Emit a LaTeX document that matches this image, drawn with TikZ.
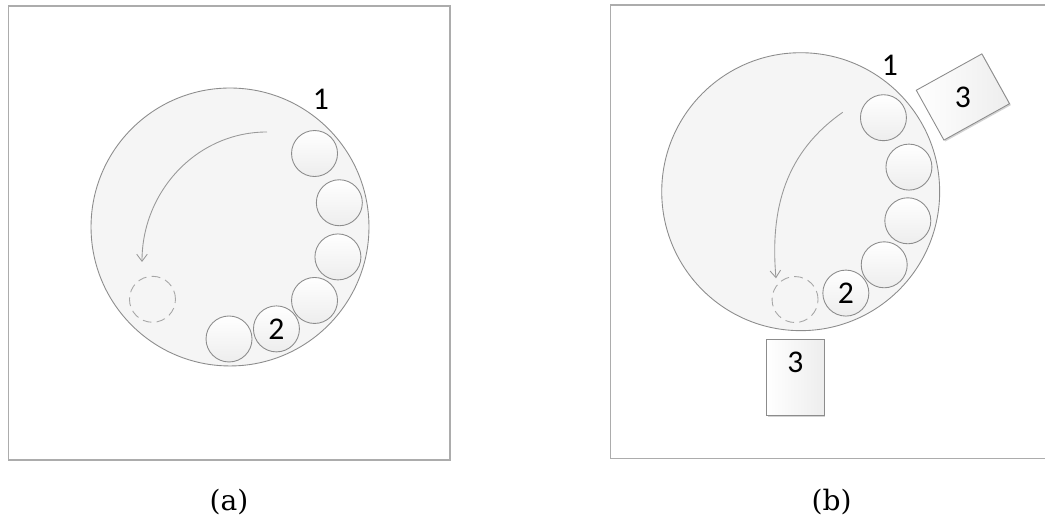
\documentclass[tikz,border=0pt]{standalone}
\usepackage{fontspec}
\setmainfont{DejaVu Serif}
\newfontfamily\numfont{Carlito}
\usetikzlibrary{calc,arrows.meta,shadows}
\definecolor{discfill}{HTML}{F5F5F5}
\definecolor{edge}{HTML}{8C8C8C}

\begin{document}
\begin{tikzpicture}[x=0.02cm,y=0.02cm,>={Straight Barb[length=4pt,width=6pt]},
  frame/.style={draw=gray!65,line width=0.6pt},
  disc/.style={circle,draw=edge,line width=0.5pt,fill=discfill,minimum size=5.56cm,inner sep=0pt},
  ball/.style={circle,draw=edge,line width=0.5pt,top color=white,bottom color=gray!14,
    minimum size=0.92cm,inner sep=0pt,font=\numfont\fontsize{18}{18}\selectfont},
  ghost/.style={circle,draw=gray!70,dashed,dash pattern=on 5pt off 3pt,line width=0.5pt,
    fill=discfill,minimum size=0.92cm,inner sep=0pt},
  tray/.style={draw=edge,line width=0.5pt,left color=white,right color=gray!14,inner sep=0pt,
    drop shadow={shadow xshift=0.8pt,shadow yshift=-0.8pt,opacity=0.35}},
  num/.style={font=\numfont\fontsize{18}{18}\selectfont},
  caption/.style={font=\fontsize{16}{16}\selectfont},
  turn/.style={->,draw=gray!80,line width=0.5pt}]
  \useasboundingbox (0,0) rectangle (1045,516);

  % (a)
  \draw[frame] (8.5,56) rectangle (450,510);
  \node[disc] (wheelA) at (230,289) {};
  \foreach \ang/\txt [count=\i] in {41/,12.5/,-15.5/,-41/,-65.5/2,-90.5/}
    \node[ball] (a\i) at ($(wheelA.center)+(\ang:112)$) {\txt};
  \node[ghost] (a0) at ($(wheelA.center)+(-137:106)$) {};
  \node[num] (oneA) at (321,417) {1};
  \coordinate (startA) at (267,384);
  \coordinate (endA) at (142,254);
  \draw[turn] (startA) to[out=180,in=90] (endA);
  \node[caption] (capA) at (229,13.5) {(a)};

  % (b)
  \draw[frame] (610.7,57.7) rectangle (1070,511);
  \node[disc] (wheelB) at (800.7,324.3) {};
  \foreach \ang/\txt [count=\i] in {41.8/,12.8/,-15.2/,-41.2/,-66/2}
    \node[ball] (b\i) at ($(wheelB.center)+(\ang:111)$) {\txt};
  \node[ghost] (b0) at ($(wheelB.center)+(-93:108)$) {};
  \node[num] (oneB) at (890,451) {1};
  \coordinate (startB) at (842.7,403.7);
  \coordinate (endB) at (776,237.7);
  \draw[turn] (startB) to[out=215,in=95] (endB);
  \node[tray,minimum width=1.15cm,minimum height=1.53cm] (trayLow) at (795.3,138.5) {};
  \node[num] (threeLow) at ($(trayLow.north)+(0,-24)$) {3};
  \node[tray,minimum width=1.5cm,minimum height=1.14cm,rotate=29] (trayHigh) at (962.9,419) {};
  \node[num] (threeHigh) at (trayHigh.center) {3};
  \node[caption] (capB) at (831.7,13.5) {(b)};
\end{tikzpicture}
\end{document}
